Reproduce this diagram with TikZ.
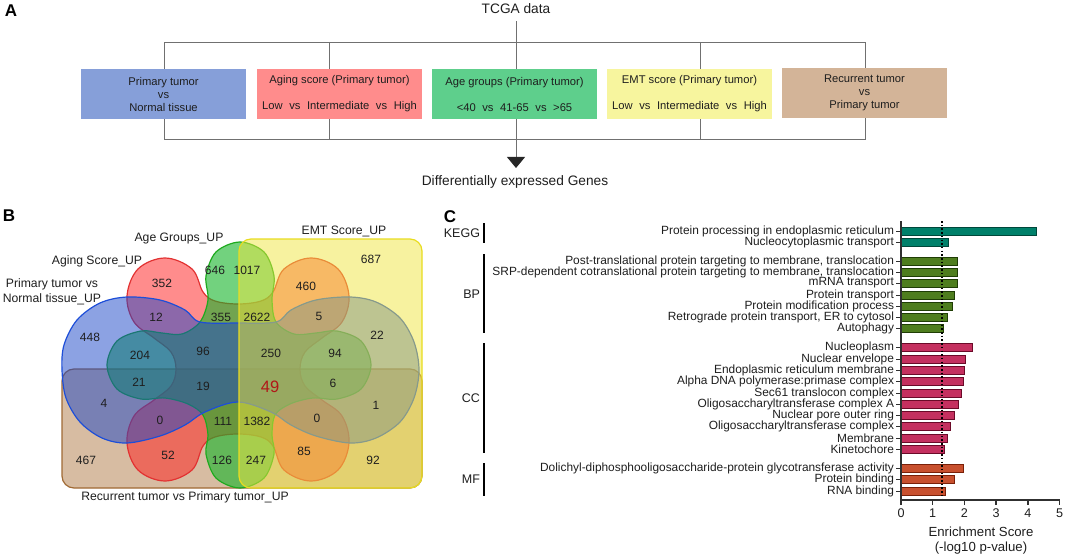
\documentclass[tikz,border=0pt]{standalone}
\usepackage{fontspec}
\setmainfont{Liberation Sans}
\usetikzlibrary{arrows.meta}
\definecolor{boxblue}{HTML}{869FD9}
\definecolor{boxred}{HTML}{FF8C8C}
\definecolor{boxgreen}{HTML}{5ECF8C}
\definecolor{boxyellow}{HTML}{F7F59E}
\definecolor{boxtan}{HTML}{D3B498}
\definecolor{framegray}{HTML}{707070}
\definecolor{txtdark}{HTML}{1E1E1E}
\definecolor{vtanF}{HTML}{B07A45}
\definecolor{vtanD}{HTML}{A06A35}
\definecolor{vredF}{HTML}{FF1A1A}
\definecolor{vredD}{HTML}{E23232}
\definecolor{vgreenF}{HTML}{14B428}
\definecolor{vgreenD}{HTML}{1EAA1E}
\definecolor{vblueF}{HTML}{1A45C8}
\definecolor{vblueD}{HTML}{1D4ED8}
\definecolor{vyellowF}{HTML}{F0E640}
\definecolor{vyellowD}{HTML}{E8DC20}
\definecolor{num49}{HTML}{B01818}
\definecolor{keggF}{HTML}{00806A}
\definecolor{keggD}{HTML}{00473A}
\definecolor{bpF}{HTML}{4E7D1E}
\definecolor{bpD}{HTML}{1F3D05}
\definecolor{ccF}{HTML}{C4305F}
\definecolor{ccD}{HTML}{6B0A28}
\definecolor{mfF}{HTML}{C8502E}
\definecolor{mfD}{HTML}{7A2008}
\definecolor{axisgray}{HTML}{303030}
\newcommand\wsp{\hspace*{6.6pt}}
\begin{document}
\begin{tikzpicture}[x=1pt,y=-1pt,
  every node/.style={inner sep=0pt, outer sep=0pt, text=txtdark},
  panel/.style={font=\fontsize{17}{20}\selectfont\bfseries, text=black},
  groupbox/.style={minimum width=165pt, minimum height=50pt, align=center, font=\fontsize{11.2}{13}\selectfont},
  flowtext/.style={font=\fontsize{13.7}{16}\selectfont},
  frameline/.style={draw=framegray, line width=0.9pt},
  vlabel/.style={font=\fontsize{12.2}{15}\selectfont, align=center},
  vnum/.style={font=\fontsize{12}{14}\selectfont},
  vshape/.style={line width=1.2pt},
  barlab/.style={font=\fontsize{11.9}{14}\selectfont, anchor=east},
  catlab/.style={font=\fontsize{12.5}{14}\selectfont, anchor=east},
  catline/.style={line width=1.4pt, draw=black},
  ticklab/.style={font=\fontsize{12.6}{14}\selectfont},
  axisline/.style={line width=1.4pt, draw=axisgray},
  keggbar/.style={fill=keggF, draw=keggD, line width=0.9pt},
  bpbar/.style={fill=bpF, draw=bpD, line width=0.9pt},
  ccbar/.style={fill=ccF, draw=ccD, line width=0.9pt},
  mfbar/.style={fill=mfF, draw=mfD, line width=0.9pt}
]
\useasboundingbox (0,0) rectangle (1065,556);

% ---------------- Panel A ----------------
\node[panel] (labA) at (11,11) {A};
\node[flowtext] (tcga) at (516,9) {TCGA data};
\node[flowtext] (deg) at (515,182) {Differentially expressed Genes};
\coordinate (arrowend) at (516,168);
\draw[frameline] (164,42) rectangle (865,139);
\draw[frameline] (329,42) -- (329,139);
\draw[frameline] (700,42) -- (700,139);
\draw[frameline, shorten <=7pt, -{Triangle[width=18pt,length=11pt,color=black!85]}] (tcga.south) -- (arrowend);

\node[groupbox, fill=boxblue] (bptn) at (163.5,94) {Primary tumor\\vs\\Normal tissue};
\node[groupbox, fill=boxred] (bage) at (339.5,94) {Aging score (Primary tumor)\\[13pt]Low\wsp vs\wsp Intermediate\wsp vs\wsp High};
\node[groupbox, fill=boxgreen] (bgrp) at (514.5,94) {Age groups (Primary tumor)\\[13pt]<40\wsp vs\wsp 41-65\wsp vs\wsp >65};
\node[groupbox, fill=boxyellow] (bemt) at (689.5,94) {EMT score (Primary tumor)\\[13pt]Low\wsp vs\wsp Intermediate\wsp vs\wsp High};
\node[groupbox, fill=boxtan] (brec) at (864.5,93) {Recurrent tumor\\vs\\Primary tumor};

% ---------------- Panel B ----------------
\node[panel] (labB) at (9,216) {B};
% tan rectangle
\filldraw[vshape, fill=vtanF, fill opacity=0.5, draw=vtanD, rounded corners=12pt] (62,369) rectangle (422,488);
% red 4-lobe shape
\filldraw[vshape, fill=vredF, fill opacity=0.5, draw=vredD] plot[smooth cycle, tension=0.6] coordinates {
 (127,296) (138,269) (165,258) (192,269) (203,292)
 (215,301) (238,304) (261,301)
 (273,292) (284,269) (311,258) (338,269) (349,296) (342,322)
 (322,338) (305,352) (300,369) (305,386) (322,400)
 (342,416) (349,443) (338,470) (311,481) (284,470) (273,446)
 (261,437) (238,434) (215,437)
 (203,446) (192,470) (165,481) (138,470) (127,443) (134,416)
 (154,400) (171,386) (176,369) (171,352) (154,338)
 (134,322)};
% green 4-lobe shape
\filldraw[vshape, fill=vgreenF, fill opacity=0.6, draw=vgreenD] plot[smooth cycle, tension=0.55] coordinates {
 (240,242) (264,252) (274,276) (272,300)
 (276,322) (294,334) (316,333)
 (337,331) (361,341) (371,365) (361,389) (337,399)
 (313,398) (290,404) (275,415)
 (272,435) (274,454) (264,478) (240,488) (216,478) (206,454) (208,435)
 (203,415) (188,404) (165,398)
 (141,399) (117,389) (107,365) (117,341) (141,331)
 (162,333) (182,334) (200,322)
 (208,300) (206,276) (216,252)};
% blue shape
\filldraw[vshape, fill=vblueF, fill opacity=0.5, draw=vblueD] plot[smooth cycle, tension=0.55] coordinates {
 (127,297) (100,303) (77,320) (64,345) (62,370) (66,398) (80,422) (102,438) (127,443)
 (160,436) (185,425) (205,412) (238,402) (271,412) (291,425) (316,436)
 (350,443) (376,438) (400,422) (414,398) (419,370) (414,342) (400,318) (376,302) (350,297)
 (316,300) (291,310) (276,322) (238,323) (200,322) (185,310) (160,300)};
% yellow rectangle
\filldraw[vshape, fill=vyellowF, fill opacity=0.5, draw=vyellowD, rounded corners=12pt] (239,239) rectangle (422,488);

% set labels
\node[vlabel] (lgrp) at (179,239) {Age Groups\_UP};
\node[vlabel] (lage) at (97,261) {Aging Score\_UP};
\node[vlabel] (lptn) at (52,291.5) {Primary tumor vs\\Normal tissue\_UP};
\node[vlabel] (lemt) at (344,231) {EMT Score\_UP};
\node[vlabel] (lrec) at (185,497) {Recurrent tumor vs Primary tumor\_UP};

% region counts
\node[vnum] (n352) at (162,283) {352};
\node[vnum] (n646) at (215,270) {646};
\node[vnum] (n1017) at (247,270) {1017};
\node[vnum] (n687) at (371,259) {687};
\node[vnum] (n460) at (306,286) {460};
\node[vnum] (n12) at (156,317) {12};
\node[vnum] (n355) at (221,317) {355};
\node[vnum] (n2622) at (257,317) {2622};
\node[vnum] (n5) at (319,316) {5};
\node[vnum] (n448) at (90,337) {448};
\node[vnum] (n22) at (377,335) {22};
\node[vnum] (n204) at (140,355) {204};
\node[vnum] (n96) at (203,351) {96};
\node[vnum] (n250) at (271,353) {250};
\node[vnum] (n94) at (335,353) {94};
\node[vnum] (n21) at (139,382) {21};
\node[vnum] (n19) at (203,386) {19};
\node[font=\fontsize{16.5}{18}\selectfont, text=num49] (n49) at (270,387) {49};
\node[vnum] (n6) at (333,383) {6};
\node[vnum] (n4) at (104,403) {4};
\node[vnum] (n0a) at (160,420) {0};
\node[vnum] (n111) at (223,421) {111};
\node[vnum] (n1382) at (257,421) {1382};
\node[vnum] (n0b) at (317,418) {0};
\node[vnum] (n1) at (376,405) {1};
\node[vnum] (n467) at (86,460) {467};
\node[vnum] (n52) at (168,455) {52};
\node[vnum] (n126) at (222,460) {126};
\node[vnum] (n247) at (256,460) {247};
\node[vnum] (n85) at (304,451) {85};
\node[vnum] (n92) at (373,460) {92};

% ---------------- Panel C ----------------
\node[panel] (labC) at (450,217) {C};
\draw[catline] (484,223) -- (484,243);
\draw[catline] (484,254) -- (484,333);
\draw[catline] (484,343) -- (484,453);
\draw[catline] (484,463) -- (484,496);
\node[catlab] (ckegg) at (480,233) {KEGG};
\node[catlab] (cbp) at (480,294) {BP};
\node[catlab] (ccc) at (480,398) {CC};
\node[catlab] (cmf) at (480,479) {MF};

\foreach \i/\y/\v/\t in {
 1/231/4.26/{Protein processing in endoplasmic reticulum},
 2/242/1.51/{Nucleocytoplasmic transport}} {
  \draw[keggbar] (901,{\y-4}) rectangle ({901+31.7*\v},{\y+4});
  \draw[axisline, line width=1pt] (896,\y) -- (901,\y);
  \node[barlab] (lk\i) at (894,\y) {\t};
}
\foreach \i/\y/\v/\t in {
 1/261/1.77/{Post-translational protein targeting to membrane, translocation},
 2/272/1.77/{SRP-dependent cotranslational protein targeting to membrane, translocation},
 3/283/1.77/{mRNA transport},
 4/295/1.67/{Protein transport},
 5/306/1.61/{Protein modification process},
 6/317/1.45/{Retrograde protein transport, ER to cytosol},
 7/328/1.33/{Autophagy}} {
  \draw[bpbar] (901,{\y-4}) rectangle ({901+31.7*\v},{\y+4});
  \draw[axisline, line width=1pt] (896,\y) -- (901,\y);
  \node[barlab] (lb\i) at (894,\y) {\t};
}
\foreach \i/\y/\v/\t in {
 1/347/2.24/{Nucleoplasm},
 2/359/2.02/{Nuclear envelope},
 3/370/1.99/{Endoplasmic reticulum membrane},
 4/381/1.98/{Alpha DNA polymerase:primase complex},
 5/393/1.92/{Sec61 translocon complex},
 6/404/1.80/{Oligosaccharyltransferase complex A},
 7/415/1.70/{Nuclear pore outer ring},
 8/426/1.55/{Oligosaccharyltransferase complex},
 9/438/1.45/{Membrane},
 10/449/1.38/{Kinetochore}} {
  \draw[ccbar] (901,{\y-4}) rectangle ({901+31.7*\v},{\y+4});
  \draw[axisline, line width=1pt] (896,\y) -- (901,\y);
  \node[barlab] (lc\i) at (894,\y) {\t};
}
\foreach \i/\y/\v/\t in {
 1/468/1.98/{Dolichyl-diphosphooligosaccharide-protein glycotransferase activity},
 2/479/1.67/{Protein binding},
 3/491/1.39/{RNA binding}} {
  \draw[mfbar] (901,{\y-4}) rectangle ({901+31.7*\v},{\y+4});
  \draw[axisline, line width=1pt] (896,\y) -- (901,\y);
  \node[barlab] (lm\i) at (894,\y) {\t};
}
% threshold line
\draw[line width=1.5pt, dash pattern=on 1.5pt off 2.2pt, draw=black] (942.2,221) -- (942.2,500);
% axes
\draw[axisline] (901,221) -- (901,500) -- (1059.5,500);
\foreach \k in {0,...,5} {
  \draw[axisline] ({901+31.7*\k},500) -- ({901+31.7*\k},505);
  \node[ticklab] (tk\k) at ({901+31.7*\k},513) {\k};
}
\node[font=\fontsize{13.2}{16}\selectfont] (xt1) at (981,532) {Enrichment Score};
\node[font=\fontsize{13.2}{16}\selectfont] (xt2) at (981,548) {(-log10 p-value)};
\end{tikzpicture}
\end{document}
